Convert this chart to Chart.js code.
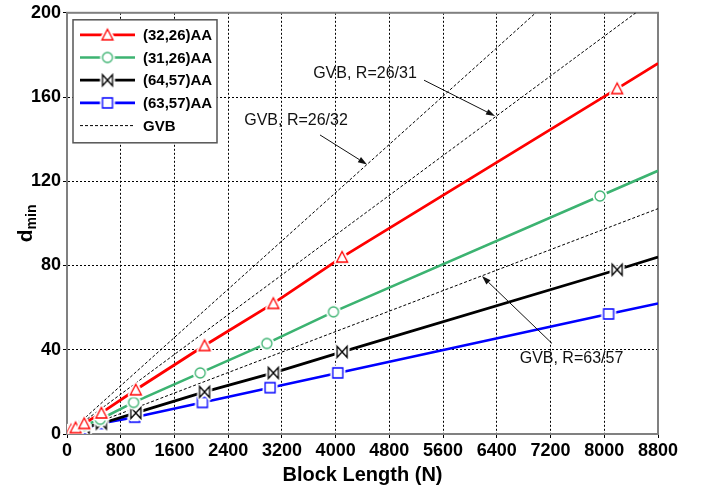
<!DOCTYPE html>
<html>
<head>
<meta charset="utf-8">
<script src="https://cdn.jsdelivr.net/npm/chart.js@4.4.0/dist/chart.umd.min.js"></script>
<style>
  html, body { margin: 0; padding: 0; background: #fff; }
  #wrap { width: 707px; height: 491px; }
</style>
</head>
<body>
<div id="wrap"><canvas id="chart" width="707" height="491"></canvas></div>
<script>
// block length N and d_min of each code (last point = line continued to the edge)
const n3226 = [32, 64, 128, 256, 512, 1024, 2048, 3072, 4096, 8192, 8800];
const d3226 = [1, 2, 3, 5, 10, 21, 42, 62, 84, 164, 176];
const n3126 = [31, 62, 124, 248, 496, 992, 1984, 2976, 3968, 7936, 8800];
const d3126 = [1, 1.5, 2, 4, 7, 15, 29, 43, 58, 113, 125];
const n6457 = [64, 128, 256, 512, 1024, 2048, 3072, 4096, 8192, 8800];
const d6457 = [1, 1.5, 3, 5, 10, 20, 29, 39, 78, 84];
const n6357 = [63, 126, 252, 504, 1008, 2016, 3024, 4032, 8064, 8800];
const d6357 = [1, 1.5, 2.5, 5, 8, 15, 22, 29, 57, 62];

// GVB straight lines
const gvbN2632 = [0, 6980];
const gvbD2632 = [0, 200];
const gvbN2631 = [0, 8470];
const gvbD2631 = [0, 200];
const gvbN6357 = [0, 8800];
const gvbD6357 = [0, 107];

const xTicks = [0, 800, 1600, 2400, 3200, 4000, 4800, 5600, 6400, 7200, 8000, 8800];
const yTicks = [0, 40, 80, 120, 160, 200];

// callouts, in data units
const noteText = ['GVB, R=26/31', 'GVB, R=26/32', 'GVB, R=63/57'];
const noteN = [4437, 3410, 7512];
const noteD = [171, 149, 36];
const arrowFromN = [5316, 3767, 7222];
const arrowFromD = [168, 142, 43];
const arrowToN = [6373, 4467, 6179];
const arrowToD = [151, 128, 75];

const FONT = "'Liberation Sans', Arial, sans-serif";

function pts(xs, ys) {
  return xs.map((x, i) => ({ x: x, y: ys[i] }));
}

/**
 * 마커 이미지 (흰 테두리로 선이 끊겨 보이게)
 */
function makeMarker(kind, color) {
  const s = 20;
  const c = document.createElement('canvas');
  c.width = s; c.height = s;
  const g = c.getContext('2d');
  const m = s / 2;
  const shape = () => {
    g.beginPath();
    if (kind === 'triangle') {
      g.moveTo(m, m - 5.5); g.lineTo(m + 5.5, m + 5); g.lineTo(m - 5.5, m + 5); g.closePath();
    } else if (kind === 'circle') {
      g.arc(m, m, 5, 0, Math.PI * 2);
    } else if (kind === 'square') {
      g.rect(m - 5, m - 5, 10, 10);
    } else {
      g.moveTo(m - 5, m - 5.5); g.lineTo(m + 5, m + 5.5); g.lineTo(m + 5, m - 5.5); g.lineTo(m - 5, m + 5.5); g.closePath();
    }
  };
  shape();
  g.fillStyle = '#fff'; g.strokeStyle = '#fff'; g.lineWidth = 5; g.lineJoin = 'round';
  g.stroke(); g.fill();
  shape();
  g.strokeStyle = color; g.lineWidth = 1.3; g.lineJoin = 'miter';
  g.stroke();
  return c;
}

function codeSet(label, xs, ys, color, kind, width) {
  const last = xs.length - 1;
  return {
    label: label,
    data: pts(xs, ys),
    borderColor: color,
    borderWidth: width,
    pointStyle: makeMarker(kind, color),
    pointRadius: ctx => (ctx.dataIndex === last ? 0 : 5),
    tension: 0
  };
}

function gvbSet(xs, ys) {
  return {
    label: 'GVB',
    data: pts(xs, ys),
    borderColor: '#000',
    borderWidth: 1,
    borderDash: [3, 2],
    pointRadius: 0,
    tension: 0
  };
}

const datasets = [
  codeSet('(32,26)AA', n3226, d3226, '#ff0000', 'triangle', 2.8),
  codeSet('(31,26)AA', n3126, d3126, '#3cb371', 'circle', 2.6),
  codeSet('(64,57)AA', n6457, d6457, '#000000', 'bowtie', 2.8),
  codeSet('(63,57)AA', n6357, d6357, '#0000ff', 'square', 2.6),
  gvbSet(gvbN2632, gvbD2632),
  gvbSet(gvbN2631, gvbD2631),
  gvbSet(gvbN6357, gvbD6357)
];

/**
 * 플롯 테두리, 범례, 축 제목, 화살표 주석
 */
const decor = {
  id: 'decor',
  beforeDatasetsDraw(chart) {
    const { ctx, chartArea: a } = chart;
    ctx.save();
    ctx.strokeStyle = '#808080';
    ctx.lineWidth = 2;
    ctx.strokeRect(a.left, a.top, a.right - a.left, a.bottom - a.top);
    ctx.restore();
  },
  afterDraw(chart) {
    const { ctx, chartArea: a, scales } = chart;
    const xs = scales.x, ys = scales.y;
    ctx.save();

    // 주석 텍스트 + 화살표
    ctx.fillStyle = '#111';
    ctx.strokeStyle = '#111';
    ctx.font = '16px ' + FONT;
    ctx.textAlign = 'center';
    ctx.textBaseline = 'middle';
    noteText.forEach((t, i) => {
      ctx.fillText(t, xs.getPixelForValue(noteN[i]), ys.getPixelForValue(noteD[i]));
      const x1 = xs.getPixelForValue(arrowFromN[i]), y1 = ys.getPixelForValue(arrowFromD[i]);
      const x2 = xs.getPixelForValue(arrowToN[i]), y2 = ys.getPixelForValue(arrowToD[i]);
      const ang = Math.atan2(y2 - y1, x2 - x1);
      const hl = 9, hw = 3;
      ctx.lineWidth = 1;
      ctx.beginPath();
      ctx.moveTo(x1, y1);
      ctx.lineTo(x2 - Math.cos(ang) * hl, y2 - Math.sin(ang) * hl);
      ctx.stroke();
      ctx.beginPath();
      ctx.moveTo(x2, y2);
      ctx.lineTo(x2 - Math.cos(ang) * hl - Math.sin(ang) * hw, y2 - Math.sin(ang) * hl + Math.cos(ang) * hw);
      ctx.lineTo(x2 - Math.cos(ang) * hl + Math.sin(ang) * hw, y2 - Math.sin(ang) * hl - Math.cos(ang) * hw);
      ctx.closePath();
      ctx.fill();
    });

    // 범례
    const bx = a.left + 6, by = a.top + 7, bw = 144, bh = 123;
    ctx.fillStyle = '#fff';
    ctx.fillRect(bx, by, bw, bh);
    ctx.strokeStyle = '#555';
    ctx.lineWidth = 1.5;
    ctx.strokeRect(bx, by, bw, bh);
    const rows = datasets.slice(0, 5);
    rows.forEach((ds, i) => {
      const y = by + 15 + i * 22.7;
      ctx.save();
      ctx.strokeStyle = ds.borderColor;
      ctx.lineWidth = ds.borderWidth;
      ctx.setLineDash(ds.borderDash || []);
      ctx.beginPath();
      ctx.moveTo(bx + 7, y);
      ctx.lineTo(bx + 62, y);
      ctx.stroke();
      ctx.restore();
      if (ds.pointStyle) {
        const img = ds.pointStyle;
        ctx.drawImage(img, bx + 34.5 - img.width / 2, y - img.height / 2);
      }
      ctx.fillStyle = '#000';
      ctx.font = 'bold 15px ' + FONT;
      ctx.textAlign = 'left';
      ctx.textBaseline = 'middle';
      ctx.fillText(ds.label, bx + 70, y + 1);
    });

    // x 축 제목
    ctx.fillStyle = '#000';
    ctx.font = 'bold 20px ' + FONT;
    ctx.textAlign = 'center';
    ctx.textBaseline = 'middle';
    ctx.fillText('Block Length (N)', (a.left + a.right) / 2, 475);

    // y 축 제목 d_min
    ctx.translate(25, (a.top + a.bottom) / 2);
    ctx.rotate(-Math.PI / 2);
    ctx.textAlign = 'left';
    ctx.textBaseline = 'alphabetic';
    ctx.font = 'bold 21px ' + FONT;
    const wd = ctx.measureText('d').width;
    ctx.font = 'bold 14px ' + FONT;
    const wm = ctx.measureText('min').width;
    const x0 = -(wd + wm) / 2;
    ctx.font = 'bold 21px ' + FONT;
    ctx.fillText('d', x0, 7);
    ctx.font = 'bold 14px ' + FONT;
    ctx.fillText('min', x0 + wd, 11);
    ctx.restore();
  }
};

const tickFont = { family: FONT, size: 18, weight: 'bold' };
const gridOpts = { color: '#000', lineWidth: 1, tickColor: '#000', tickLength: 4, tickBorderDash: [] };
const borderOpts = { color: '#808080', width: 2, dash: [2, 2] };

new Chart(document.getElementById('chart'), {
  type: 'line',
  data: { datasets: datasets },
  options: {
    responsive: false,
    animation: false,
    devicePixelRatio: 1,
    layout: { padding: { top: 11, right: 49, left: 0, bottom: 0 } },
    plugins: { legend: { display: false }, tooltip: { enabled: false } },
    scales: {
      x: {
        type: 'linear',
        min: xTicks[0],
        max: xTicks[xTicks.length - 1],
        afterFit: s => { s.height = 57; },
        afterBuildTicks: s => { s.ticks = xTicks.map(v => ({ value: v })); },
        ticks: { font: tickFont, color: '#000', padding: 2, autoSkip: false, maxRotation: 0, callback: v => String(v) },
        grid: gridOpts,
        border: borderOpts
      },
      y: {
        type: 'linear',
        min: yTicks[0],
        max: yTicks[yTicks.length - 1],
        afterFit: s => { s.width = 67; },
        afterBuildTicks: s => { s.ticks = yTicks.map(v => ({ value: v })); },
        ticks: { font: tickFont, color: '#000', padding: 2, callback: v => String(v) },
        grid: gridOpts,
        border: borderOpts
      }
    }
  },
  plugins: [decor]
});
</script>
</body>
</html>
